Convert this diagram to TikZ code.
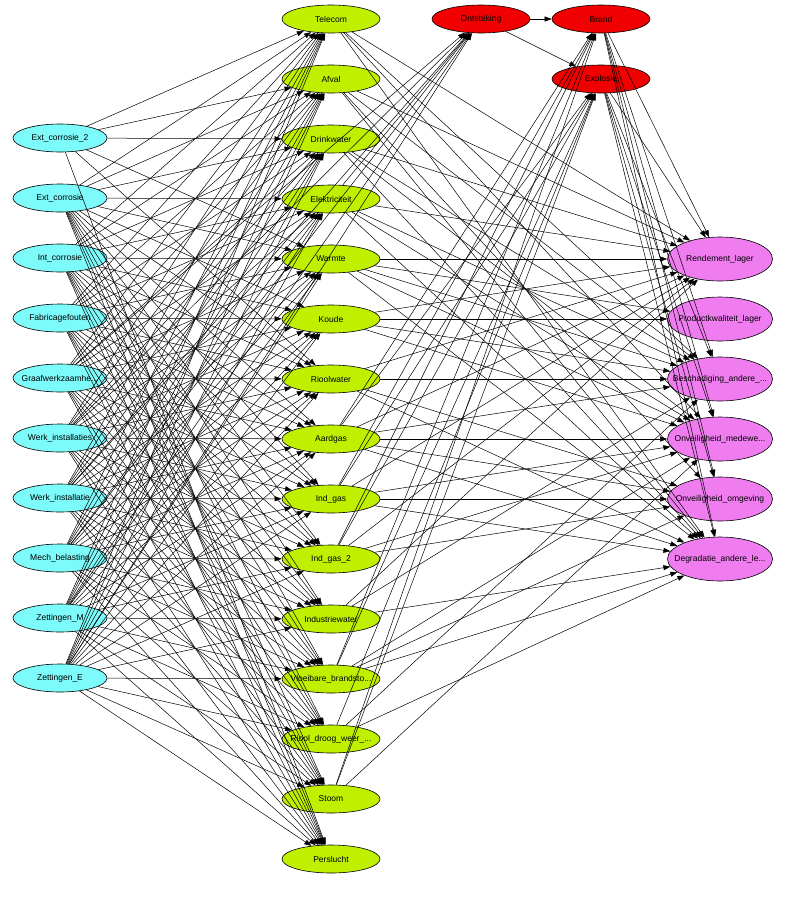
\documentclass[tikz,border=0pt]{standalone}
\usepackage{fontspec}
\setmainfont{Liberation Sans}
\usetikzlibrary{shapes.geometric,arrows.meta}
\definecolor{ccyan}{RGB}{125,250,250}
\definecolor{cgreen}{RGB}{192,240,0}
\definecolor{cred}{RGB}{240,0,0}
\definecolor{cpink}{RGB}{240,125,240}
\newcommand{\lbl}[1]{\makebox[0pt]{#1}}
\tikzset{
  bn/.style={ellipse,draw=black,line width=0.6pt,inner sep=0pt,font=\fontsize{8.5}{10}\selectfont},
  cause/.style={bn,fill=ccyan,minimum width=94pt,minimum height=28pt},
  util/.style={bn,fill=cgreen,minimum width=98pt,minimum height=28pt},
  evt/.style={bn,fill=cred,minimum width=98pt,minimum height=28pt},
  eff/.style={bn,fill=cpink,minimum width=105pt,minimum height=44pt},
  arr/.style={line width=0.5pt,-{Triangle[length=7pt,width=5pt]}}
}
\begin{document}
\begin{tikzpicture}[x=1pt,y=-1pt]
\useasboundingbox (0,0) rectangle (792,900);
% causes
\node[cause] (l1) at (60,138) {\lbl{Ext\_corrosie\_2}};
\node[cause] (l2) at (60,198) {\lbl{Ext\_corrosie}};
\node[cause] (l3) at (60,258) {\lbl{Int\_corrosie}};
\node[cause] (l4) at (60,318) {\lbl{Fabricagefouten}};
\node[cause] (l5) at (60,378) {\lbl{Graafwerkzaamhe...}};
\node[cause] (l6) at (60,438) {\lbl{Werk\_installaties}};
\node[cause] (l7) at (60,498) {\lbl{Werk\_installatie}};
\node[cause] (l8) at (60,558) {\lbl{Mech\_belasting}};
\node[cause] (l9) at (60,618) {\lbl{Zettingen\_M}};
\node[cause] (l10) at (60,678) {\lbl{Zettingen\_E}};
% utilities
\node[util] (m1) at (331,19) {\lbl{Telecom}};
\node[util] (m2) at (331,79) {\lbl{Afval}};
\node[util] (m3) at (331,139) {\lbl{Drinkwater}};
\node[util] (m4) at (331,199) {\lbl{Elektriciteit}};
\node[util] (m5) at (331,259) {\lbl{Warmte}};
\node[util] (m6) at (331,319) {\lbl{Koude}};
\node[util] (m7) at (331,379) {\lbl{Rioolwater}};
\node[util] (m8) at (331,439) {\lbl{Aardgas}};
\node[util] (m9) at (331,499) {\lbl{Ind\_gas}};
\node[util] (m10) at (331,559) {\lbl{Ind\_gas\_2}};
\node[util] (m11) at (331,619) {\lbl{Industriewater}};
\node[util] (m12) at (331,679) {\lbl{Vloeibare\_brandsto...}};
\node[util] (m13) at (331,739) {\lbl{Riool\_droog\_weer\_...}};
\node[util] (m14) at (331,799) {\lbl{Stoom}};
\node[util] (m15) at (331,859) {\lbl{Perslucht}};
% events
\node[evt] (o) at (481,19) {\lbl{Ontsteking}};
\node[evt] (b) at (601,19) {\lbl{Brand}};
\node[evt] (e) at (601,79) {\lbl{Explosie}};
% effects
\node[eff] (p1) at (720,259) {\lbl{Rendement\_lager}};
\node[eff] (p2) at (720,319) {\lbl{Productkwaliteit\_lager}};
\node[eff] (p3) at (720,379) {\lbl{Beschadiging\_andere\_...}};
\node[eff] (p4) at (720,439) {\lbl{Onveiligheid\_medewe...}};
\node[eff] (p5) at (720,499) {\lbl{Onveiligheid\_omgeving}};
\node[eff] (p6) at (720,559) {\lbl{Degradatie\_andere\_le...}};
% causes -> utilities
\foreach \i in {2,...,10}{
  \foreach \j in {1,...,15}{
    \draw[arr] (l\i) -- (m\j);
  }
}
\foreach \j in {1,2,3,5,7,15}{\draw[arr] (l1) -- (m\j);}
% causes -> ignition
\foreach \i in {5,6,7,8,9,10}{\draw[arr] (l\i) -- (o);}
\draw[arr] (m4) -- (o);
% utilities -> fire / explosion
\foreach \j in {8,9,10,12,14}{\draw[arr] (m\j) -- (b);}
\foreach \j in {8,9,10,12,13,14}{\draw[arr] (m\j) -- (e);}
\draw[arr] (o) -- (b);
\draw[arr] (o) -- (e);
% events -> effects
\foreach \k in {1,3,4,5,6}{\draw[arr] (b) -- (p\k);}
\foreach \k in {1,3,4,5,6}{\draw[arr] (e) -- (p\k);}
% utilities -> effects
\foreach \j/\k in {1/1,1/3,1/4,1/6,
  2/1,2/3,2/5,2/6,
  3/1,3/3,3/4,3/6,
  4/1,4/3,4/4,4/6,
  5/1,5/2,5/3,5/4,5/6,
  6/1,6/2,6/3,6/4,
  7/1,7/3,7/5,7/6,
  8/1,8/3,8/4,8/5,8/6,
  9/1,9/4,9/5,9/6,
  10/1,10/4,10/5,
  11/1,11/3,11/6,
  12/4,12/5,12/6,
  13/3,13/6,
  14/4}{
  \draw[arr] (m\j) -- (p\k);
}
\end{tikzpicture}
\end{document}
